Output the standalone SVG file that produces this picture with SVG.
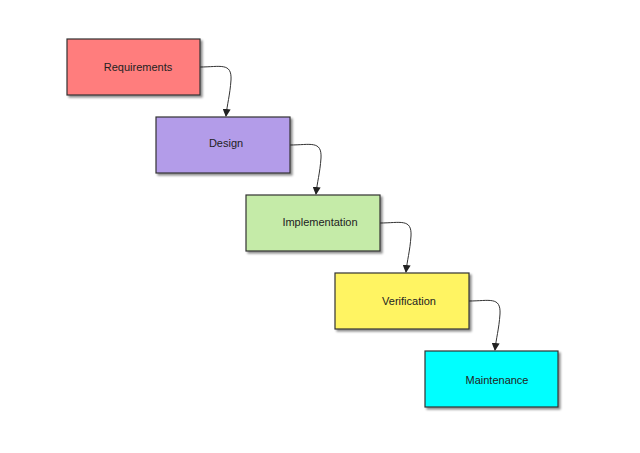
<svg xmlns="http://www.w3.org/2000/svg" width="640" height="453" viewBox="0 0 640 453">
<defs>
<filter id="sh" x="-10%" y="-10%" width="130%" height="130%"><feDropShadow dx="2" dy="2" stdDeviation="1.2" flood-color="#000" flood-opacity="0.45"/></filter>
<marker id="ar" markerWidth="8" markerHeight="8" refX="7" refY="4" orient="auto" markerUnits="userSpaceOnUse"><path d="M0,0 L8,4 L0,8 z" fill="#222"/></marker>
</defs>
<style>
.b{stroke:#333;stroke-width:1.2;filter:url(#sh)}
.t{font-family:"Liberation Sans",Arial,sans-serif;font-size:11px;fill:#222;text-anchor:middle}
.c{fill:none;stroke:#333;stroke-width:1;marker-end:url(#ar)}
</style>
<rect width="640" height="453" fill="#fff"/>
<g id="connectors">
<path class="c" d="M200,67 C220,67 232,62 231,80 C230,95 227,105 226,116"/>
<path class="c" d="M290,145 C310,145 322,140 321,158 C320,173 317,183 316,194"/>
<path class="c" d="M380,223 C400,223 412,218 411,236 C410,251 407,261 406,272"/>
<path class="c" d="M469,301 C489,301 501,296 500,314 C499,329 496,339 495,350"/>
</g>
<g id="requirements"><rect class="b" x="67" y="39" width="133" height="56" fill="#ff7d7d"/><text class="t" x="138" y="71">Requirements</text></g>
<g id="design"><rect class="b" x="156" y="117" width="134" height="56" fill="#b39ce9"/><text class="t" x="226" y="147">Design</text></g>
<g id="implementation"><rect class="b" x="246" y="195" width="134" height="56" fill="#c5eba8"/><text class="t" x="320" y="226">Implementation</text></g>
<g id="verification"><rect class="b" x="335" y="273" width="134" height="56" fill="#fff462"/><text class="t" x="409" y="305">Verification</text></g>
<g id="maintenance"><rect class="b" x="425" y="351" width="133" height="56" fill="#00ffff"/><text class="t" x="497" y="384">Maintenance</text></g>
</svg>
